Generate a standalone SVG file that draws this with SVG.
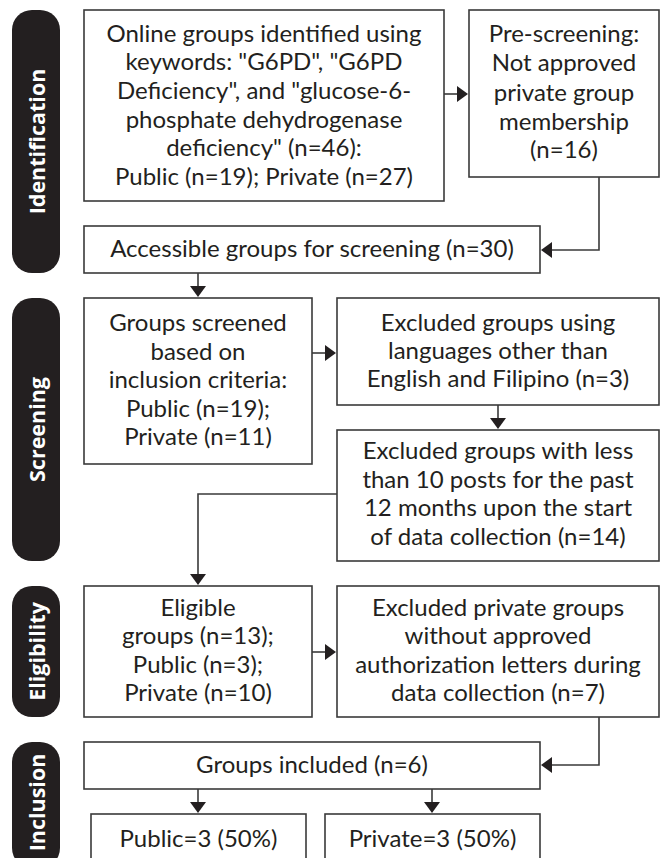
<svg xmlns="http://www.w3.org/2000/svg" width="661" height="858" viewBox="0 0 661 858">
<style>
.box{fill:#fff;stroke:#3a3a3a;stroke-width:1.6}
.t{font-family:Lato,"Liberation Sans",sans-serif;font-size:24px;fill:#231f20;text-anchor:middle}
.pill{fill:#231f20}
.pt{font-family:"Open Sans","Liberation Sans",sans-serif;font-size:21.5px;font-weight:700;fill:#fff;text-anchor:middle;dominant-baseline:central}
.c{fill:none;stroke:#3a3a3a;stroke-width:1.6}
</style>
<defs>
<marker id="ah" markerUnits="userSpaceOnUse" viewBox="0 0 11 16" markerWidth="11" markerHeight="16" refX="1" refY="8" orient="auto">
<path d="M0,0 L11,8 L0,16 z" fill="#231f20"/>
</marker>
</defs>
<rect width="661" height="858" fill="#fff"/>
<g id="stages">
<g id="stage-identification"><rect class="pill" x="12" y="10" width="48" height="263" rx="20"/><text class="pt" transform="translate(36,141.5) rotate(-90)">Identification</text></g>
<g id="stage-screening"><rect class="pill" x="12" y="298" width="48" height="263" rx="20"/><text class="pt" transform="translate(36,429.5) rotate(-90)">Screening</text></g>
<g id="stage-eligibility"><rect class="pill" x="12" y="586" width="48" height="131" rx="20"/><text class="pt" transform="translate(36,651.5) rotate(-90)">Eligibility</text></g>
<g id="stage-inclusion"><rect class="pill" x="12" y="742" width="48" height="126" rx="20"/><text class="pt" transform="translate(36,802.5) rotate(-90)">Inclusion</text></g>
</g>
<g id="connectors">
<path class="c" d="M444,94 H458" marker-end="url(#ah)"/>
<path class="c" d="M599,177 V250 H551" marker-end="url(#ah)"/>
<path class="c" d="M198,273 V287" marker-end="url(#ah)"/>
<path class="c" d="M312,353 H326" marker-end="url(#ah)"/>
<path class="c" d="M498,405 V419" marker-end="url(#ah)"/>
<path class="c" d="M337,494 H198 V575" marker-end="url(#ah)"/>
<path class="c" d="M312,652 H326" marker-end="url(#ah)"/>
<path class="c" d="M599,717 V765 H551" marker-end="url(#ah)"/>
<path class="c" d="M198,789 V803" marker-end="url(#ah)"/>
<path class="c" d="M432,789 V803" marker-end="url(#ah)"/>
</g>
<g id="n-identified">
<rect class="box" x="84" y="10" width="360" height="191"/>
<text class="t" x="264" y="41.7">Online groups identified using</text>
<text class="t" x="264" y="70.3">keywords: "G6PD", "G6PD</text>
<text class="t" x="264" y="98.9">Deficiency", and "glucose-6-</text>
<text class="t" x="264" y="127.5">phosphate dehydrogenase</text>
<text class="t" x="264" y="156.1">deficiency" (n=46):</text>
<text class="t" x="264" y="184.7">Public (n=19); Private (n=27)</text>
</g>
<g id="n-prescreening">
<rect class="box" x="469" y="10" width="190" height="167"/>
<text class="t" x="564" y="42">Pre-screening:</text>
<text class="t" x="564" y="71">Not approved</text>
<text class="t" x="564" y="100.5">private group</text>
<text class="t" x="564" y="129.5">membership</text>
<text class="t" x="564" y="158">(n=16)</text>
</g>
<g id="n-accessible">
<rect class="box" x="84" y="226" width="456" height="47"/>
<text class="t" x="312" y="257">Accessible groups for screening (n=30)</text>
</g>
<g id="n-screened">
<rect class="box" x="84" y="298" width="228" height="166"/>
<text class="t" x="198" y="331">Groups screened</text>
<text class="t" x="198" y="359.5">based on</text>
<text class="t" x="198" y="388">inclusion criteria:</text>
<text class="t" x="198" y="416.5">Public (n=19);</text>
<text class="t" x="198" y="445">Private (n=11)</text>
</g>
<g id="n-excluded-language">
<rect class="box" x="337" y="298" width="322" height="107"/>
<text class="t" x="498" y="331">Excluded groups using</text>
<text class="t" x="498" y="359">languages other than</text>
<text class="t" x="498" y="387">English and Filipino (n=3)</text>
</g>
<g id="n-excluded-posts">
<rect class="box" x="337" y="430" width="322" height="131"/>
<text class="t" x="498" y="459">Excluded groups with less</text>
<text class="t" x="498" y="487.5">than 10 posts for the past</text>
<text class="t" x="498" y="516">12 months upon the start</text>
<text class="t" x="498" y="544.5">of data collection (n=14)</text>
</g>
<g id="n-eligible">
<rect class="box" x="84" y="586" width="228" height="131"/>
<text class="t" x="198" y="616">Eligible</text>
<text class="t" x="198" y="644.3">groups (n=13);</text>
<text class="t" x="198" y="672.5">Public (n=3);</text>
<text class="t" x="198" y="700.7">Private (n=10)</text>
</g>
<g id="n-excluded-private">
<rect class="box" x="337" y="586" width="322" height="131"/>
<text class="t" x="498" y="616">Excluded private groups</text>
<text class="t" x="498" y="644.3">without approved</text>
<text class="t" x="498" y="672.5">authorization letters during</text>
<text class="t" x="498" y="700.7">data collection (n=7)</text>
</g>
<g id="n-included">
<rect class="box" x="84" y="742" width="456" height="47"/>
<text class="t" x="312" y="773">Groups included (n=6)</text>
</g>
<g id="n-public">
<rect class="box" x="91" y="814" width="215" height="60"/>
<text class="t" x="198.5" y="846.5">Public=3 (50%)</text>
</g>
<g id="n-private">
<rect class="box" x="325" y="814" width="215" height="60"/>
<text class="t" x="432.5" y="846.5">Private=3 (50%)</text>
</g>
</svg>
